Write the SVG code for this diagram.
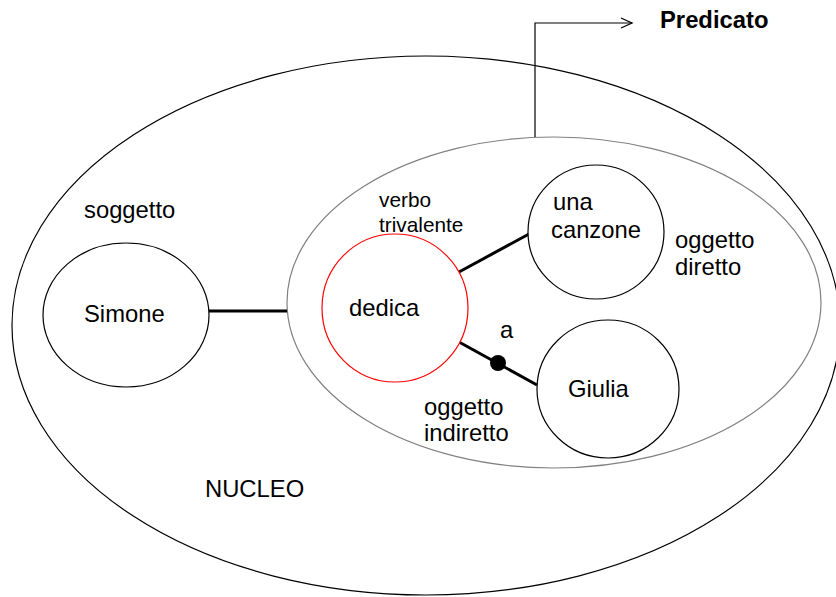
<svg xmlns="http://www.w3.org/2000/svg" width="836" height="597" viewBox="0 0 836 597">
<defs>
<style>
text{font-family:"Liberation Sans",Arial,sans-serif;font-size:23.8px;fill:#000}
.sm{font-size:20.8px}
.b{font-weight:bold;font-size:23.8px}
.c{fill:#fff;stroke:#000;stroke-width:1.2}
.ln{stroke:#000;stroke-width:3;fill:none}
</style>
<marker id="arr" markerWidth="14" markerHeight="14" refX="12" refY="6" orient="auto" markerUnits="userSpaceOnUse">
<path d="M1,1 L12,6 L1,11" fill="none" stroke="#000" stroke-width="1.3"/>
</marker>
</defs>
<rect width="836" height="597" fill="#fff"/>
<g id="nucleo">
<ellipse cx="426" cy="325.5" rx="414" ry="269.5" fill="none" stroke="#000" stroke-width="1.2"/>
<text x="205" y="497">NUCLEO</text>
</g>
<g id="predicato-area">
<ellipse cx="554" cy="302.5" rx="267" ry="165.5" fill="none" stroke="#808080" stroke-width="1.2"/>
</g>
<g id="connectors">
<line class="ln" x1="209" y1="311" x2="287" y2="311"/>
<line class="ln" x1="459" y1="272" x2="529" y2="234"/>
<line class="ln" x1="459" y1="342" x2="537" y2="385"/>
<circle cx="498" cy="363" r="8" fill="#000"/>
<polyline points="535,137 535,23 632,23" fill="none" stroke="#000" stroke-width="1.2" marker-end="url(#arr)"/>
</g>
<g id="predicato-label"><text class="b" x="660" y="28">Predicato</text></g>
<g id="simone">
<ellipse class="c" cx="126" cy="315" rx="83" ry="72"/>
<text x="84" y="322">Simone</text>
</g>
<text x="84" y="218">soggetto</text>
<g id="dedica">
<ellipse cx="395" cy="308" rx="73" ry="74" fill="#fff" stroke="#ff0000" stroke-width="1.2"/>
<text x="349" y="316">dedica</text>
</g>
<text class="sm" x="379" y="207">verbo</text>
<text class="sm" x="379" y="232">trivalente</text>
<g id="canzone">
<ellipse class="c" cx="596" cy="232" rx="68" ry="67"/>
<text x="553" y="210">una</text>
<text x="551" y="238">canzone</text>
</g>
<text x="675" y="248">oggetto</text>
<text x="675" y="275">diretto</text>
<g id="giulia">
<ellipse class="c" cx="608" cy="389" rx="71" ry="69"/>
<text x="568" y="397">Giulia</text>
</g>
<text x="500" y="338">a</text>
<text x="424" y="415">oggetto</text>
<text x="424" y="441">indiretto</text>
</svg>
